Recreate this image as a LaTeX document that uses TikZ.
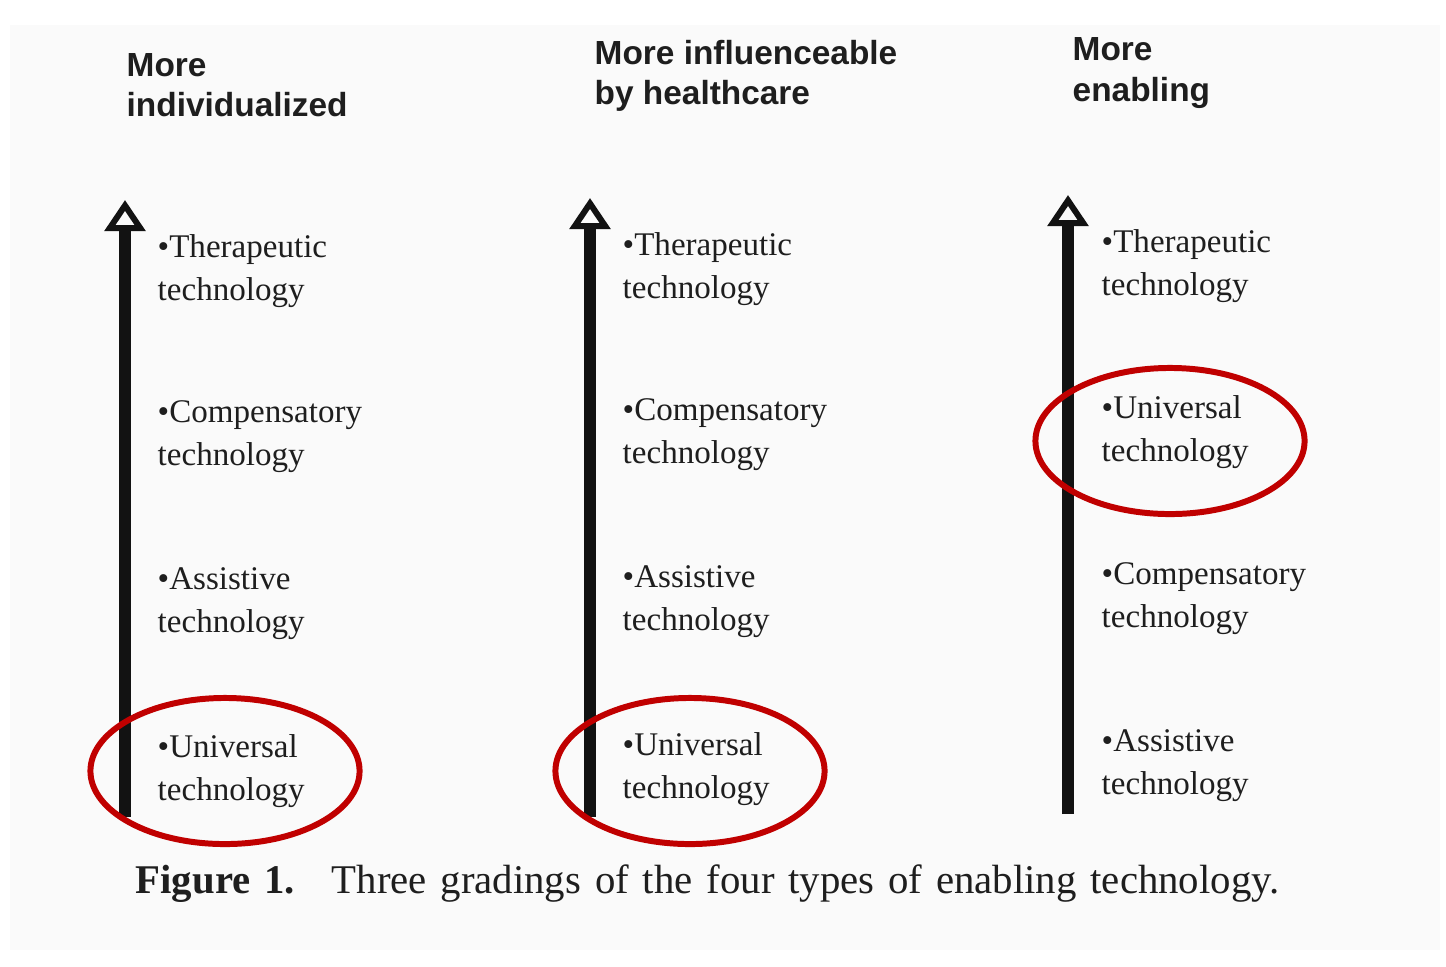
\documentclass[tikz,border=0pt]{standalone}
\usepackage{fontspec}
\setmainfont{Liberation Serif}
\setsansfont{Liberation Sans}
\usetikzlibrary{arrows.meta,shapes.geometric}
\definecolor{ringred}{RGB}{192,0,0}
\definecolor{ink}{RGB}{30,30,30}
\begin{document}
\begin{tikzpicture}[x=0.01cm,y=-0.01cm,
  head/.style={font=\sffamily\bfseries\fontsize{9.5pt}{11.4pt}\selectfont, align=left, anchor=west, inner sep=0pt, text=ink},
  item/.style={font=\fontsize{9.4pt}{12.2pt}\selectfont, align=left, anchor=west, inner sep=0pt, text=ink},
  grade/.style={line width=3.4pt, draw=black!93, -{Triangle[open, length=0.31cm, width=0.40cm, line width=1.7pt]}},
  ring/.style={draw=ringred, line width=1.7pt, ellipse, inner sep=0pt, minimum width=2.69cm, minimum height=1.46cm},
]
\useasboundingbox[fill=white] (0,0) rectangle (1446,966);
\fill[black!2] (10,25) rectangle (1440,950);

% headers
\node[head] (h1) at (126,85) {More\\individualized};
\node[head] (h2) at (594,76) {More influenceable\\by healthcare};
\node[head] (h3) at (1072,73) {More\\enabling};

% arrows
\coordinate (b1) at (125,817); \coordinate (t1) at (125,200);
\coordinate (b2) at (590,817); \coordinate (t2) at (590,198);
\coordinate (b3) at (1068,814); \coordinate (t3) at (1068,195);
\draw[grade] (b1) -- (t1);
\draw[grade] (b2) -- (t2);
\draw[grade] (b3) -- (t3);

% column 1
\node[item] (a1) at (157,271) {•Therapeutic\\technology};
\node[item] (a2) at (157,437) {•Compensatory\\technology};
\node[item] (a3) at (157,604) {•Assistive\\technology};
\node[item] (a4) at (157,771) {•Universal\\technology};
% column 2
\node[item] (c1) at (622,269) {•Therapeutic\\technology};
\node[item] (c2) at (622,435) {•Compensatory\\technology};
\node[item] (c3) at (622,602) {•Assistive\\technology};
\node[item] (c4) at (622,769) {•Universal\\technology};
% column 3
\node[item] (d1) at (1101,266) {•Therapeutic\\technology};
\node[item] (d2) at (1101,432) {•Universal\\technology};
\node[item] (d3) at (1101,599) {•Compensatory\\technology};
\node[item] (d4) at (1101,766) {•Assistive\\technology};

% rings
\node[ring] (r1) at (225,771) {};
\node[ring] (r2) at (690,771) {};
\node[ring] (r3) at (1170,441) {};

% caption
\node[anchor=base west, inner sep=0pt, text=ink, font=\fontsize{11.6pt}{14pt}\selectfont] (cap) at (135,893)
  {\makebox[11.43cm][s]{\textbf{Figure 1.}\hspace{0.3em} Three gradings of the four types of enabling technology.}};
\end{tikzpicture}
\end{document}
